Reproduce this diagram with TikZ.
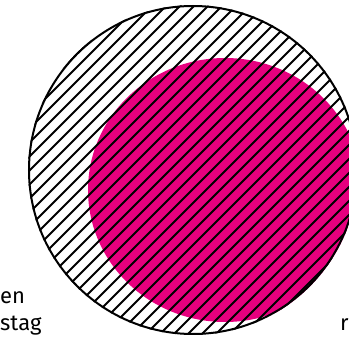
\documentclass[tikz,border=0pt]{standalone}
\usepackage{fontspec}
\setmainfont{Fira Sans}
\usepackage{xcolor}
\definecolor{mpink}{RGB}{230,0,126}

\begin{document}
\begin{tikzpicture}[
  x=1pt, y=-1pt,
  hatch/.style={line width=2pt, black},
  rim/.style={draw=black, line width=2pt},
  lbl/.style={anchor=base west, inner sep=0pt, font=\fontsize{22}{26}\selectfont},
]
\useasboundingbox (0,0) rectangle (349,337);
\coordinate (big) at (193,170);
\coordinate (dot) at (225,190);
\begin{scope}
  \clip (big) circle (165pt);
  \fill[mpink] (dot) ellipse [x radius=137pt, y radius=132pt];
  \foreach \k in {-24,...,26}
    \draw[hatch] (\k*14,340) -- +(340,-340);
\end{scope}
\draw[rim] (big) circle (164pt);
\node[lbl] (en) at (0,304) {en};
\node[lbl] (stag) at (0,331) {stag};
\node[lbl] (r) at (340,331) {r};
\end{tikzpicture}
\end{document}
